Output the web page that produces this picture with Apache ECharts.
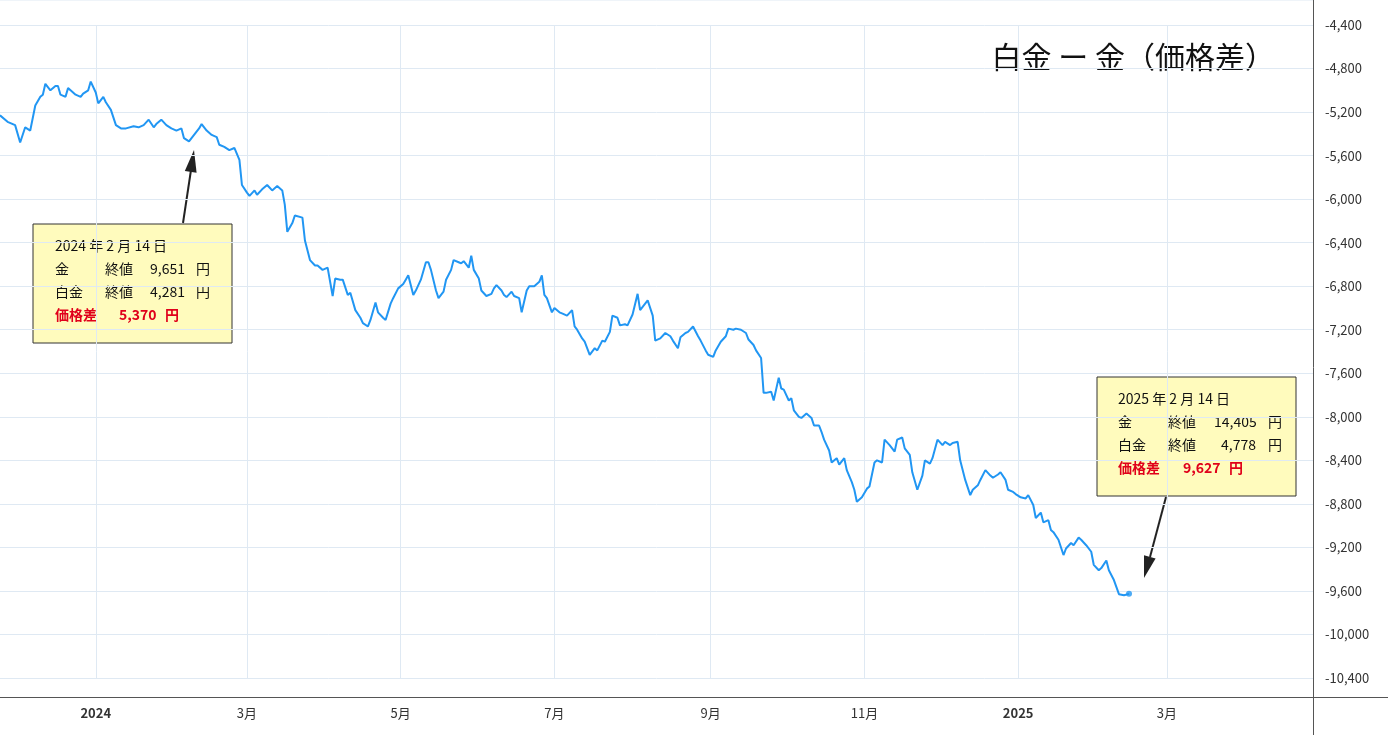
<!DOCTYPE html>
<html>
<head>
<meta charset="utf-8">
<script src="https://cdn.jsdelivr.net/npm/echarts@6/dist/echarts.min.js"></script>
<style>
  html, body { margin: 0; padding: 0; background: #fff; }
  #chart { width: 1388px; height: 735px; }
</style>
</head>
<body>
<div id="chart"></div>
<script>
// days since 2023-11-24
var START = '2023-11-24';
var days = [0,3,6,8,10,12,14,16,17,18,20,22,23,24,26,27,28,30,32,33,35,36,38,39,41,42,44,46,48,50,
  53,55,57,59,61,62,64,66,68,70,72,73,75,77,79,80,82,84,86,87,89,91,93,95,96,98,99,101,102,104,
  106,108,110,112,113,114,116,117,120,121,123,125,126,128,130,132,133,135,136,138,139,141,143,144,146,147,149,150,152,153,
  155,156,158,160,161,162,164,165,167,169,170,171,173,174,176,177,179,180,182,183,184,186,187,188,190,191,193,195,196,197,
  199,200,201,203,204,206,207,209,210,212,214,215,216,217,219,220,222,223,225,227,228,229,231,232,234,236,237,239,240,242,
  243,245,246,248,249,251,253,254,256,257,259,260,262,264,266,267,269,270,272,273,275,277,278,280,281,283,284,286,288,289,
  291,292,294,296,297,299,300,302,303,304,306,307,309,310,311,313,314,315,317,318,320,322,323,325,326,327,329,330,332,333,
  335,336,338,339,340,342,344,345,347,348,350,351,353,355,356,358,359,361,362,364,366,367,369,370,372,374,375,377,378,380,
  381,383,385,386,388,389,391,393,394,396,397,399,400,402,403,405,407,408,410,411,413,414,416,417,418,420,422,423,425,426,
  428,429,431,433,434,436,437,439,440,442,444,446,448];
var spread = [-5230,-5290,-5320,-5480,-5340,-5370,-5140,-5060,-5040,-4940,-5000,-4960,-4960,-5040,-5060,-4980,-5000,-5040,-5060,-5030,-5000,-4920,-5020,-5120,-5060,-5110,-5180,-5320,-5350,-5350,
  -5330,-5340,-5320,-5270,-5340,-5310,-5270,-5320,-5350,-5370,-5350,-5440,-5470,-5410,-5350,-5310,-5370,-5410,-5430,-5500,-5520,-5550,-5530,-5640,-5870,-5940,-5970,-5920,-5960,-5910,
  -5870,-5920,-5880,-5920,-6050,-6300,-6220,-6150,-6170,-6380,-6560,-6610,-6610,-6650,-6630,-6890,-6730,-6740,-6740,-6880,-6860,-7020,-7090,-7140,-7170,-7110,-6950,-7040,-7090,-7110,
  -6960,-6910,-6820,-6780,-6740,-6700,-6880,-6840,-6740,-6580,-6580,-6650,-6840,-6910,-6850,-6740,-6650,-6560,-6580,-6590,-6570,-6630,-6520,-6650,-6730,-6840,-6890,-6870,-6820,-6790,
  -6840,-6880,-6900,-6850,-6890,-6910,-7040,-6840,-6800,-6800,-6760,-6700,-6880,-6910,-7040,-7000,-7040,-7050,-7070,-7020,-7170,-7200,-7280,-7310,-7430,-7370,-7390,-7300,-7310,-7220,
  -7070,-7090,-7160,-7150,-7160,-7060,-6870,-7020,-6960,-6930,-7070,-7300,-7280,-7230,-7260,-7300,-7370,-7270,-7230,-7220,-7170,-7260,-7300,-7390,-7430,-7450,-7390,-7310,-7260,-7190,
  -7200,-7190,-7200,-7230,-7290,-7340,-7390,-7460,-7780,-7780,-7770,-7850,-7640,-7740,-7750,-7850,-7830,-7940,-8000,-8010,-7970,-8010,-8080,-8080,-8140,-8210,-8310,-8420,-8380,-8440,
  -8380,-8490,-8600,-8670,-8780,-8740,-8660,-8640,-8420,-8400,-8420,-8210,-8260,-8320,-8210,-8190,-8290,-8350,-8510,-8670,-8540,-8400,-8430,-8380,-8210,-8260,-8230,-8260,-8240,-8230,
  -8400,-8580,-8720,-8670,-8630,-8580,-8490,-8540,-8560,-8530,-8510,-8580,-8670,-8690,-8710,-8740,-8750,-8720,-8810,-8930,-8880,-8970,-8950,-9040,-9060,-9130,-9270,-9210,-9160,-9180,
  -9110,-9130,-9180,-9240,-9360,-9410,-9390,-9320,-9410,-9500,-9630,-9640,-9627];

var tickDays = [38, 98, 159, 220, 282, 343, 404, 463];
var tickLabels = ['2024', '3月', '5月', '7月', '9月', '11月', '2025', '3月'];
var yTicks = [-4400, -4800, -5200, -5600, -6000, -6400, -6800, -7200, -7600, -8000, -8400, -8800, -9200, -9600, -10000, -10400];

var chart = echarts.init(document.getElementById('chart'), null, { renderer: 'canvas' });
var FONT = '"Noto Sans CJK JP", "Noto Sans", sans-serif';
var seriesData = days.map(function (d, i) { return [d, spread[i]]; });
var last = seriesData[seriesData.length - 1];

function noteBox(x, y, lines) {
  var children = [{
    type: 'rect', shape: { x: 0, y: 0, width: 199, height: 119 },
    style: { fill: '#fffbbd', stroke: '#333', lineWidth: 1 }
  }];
  lines.forEach(function (ln, r) {
    ln.cols.forEach(function (c) {
      children.push({
        type: 'text', x: c[0], y: 22 + r * 23,
        style: { text: c[1], font: (ln.red ? 'bold ' : '') + '14px ' + FONT, fill: ln.red ? '#e0001b' : '#111', textVerticalAlign: 'middle' }
      });
    });
  });
  return { type: 'group', x: x, y: y, children: children };
}

var option = {
  animation: false,
  grid: { left: 0, right: 75, top: 25, bottom: 57 },
  xAxis: {
    type: 'value', min: 0, max: 521, offset: 19,
    axisLine: { show: false },
    axisTick: { show: false, customValues: tickDays },
    axisLabel: {
      customValues: tickDays, margin: 10,
      formatter: function (v) {
        var i = tickDays.indexOf(v);
        var t = i >= 0 ? tickLabels[i] : '';
        return (t === '2024' || t === '2025') ? '{b|' + t + '}' : t;
      },
      color: '#333', fontSize: 13, fontFamily: FONT,
      rich: { b: { fontWeight: 'bold', fontSize: 13, color: '#333', fontFamily: FONT } }
    },
    splitLine: { show: true, lineStyle: { color: '#dfe9f3', width: 1 } }
  },
  yAxis: {
    type: 'value', position: 'right', min: -10400, max: -4400, interval: 400,
    axisLine: { show: false }, axisTick: { show: false },
    axisLabel: {
      margin: 12, color: '#333', fontSize: 13, fontFamily: FONT,
      formatter: function (v) { return v.toLocaleString('en-US'); }
    },
    splitLine: { lineStyle: { color: '#dfe9f3', width: 1 } }
  },
  series: [{
    type: 'line', data: seriesData, showSymbol: false,
    lineStyle: { color: '#2196f3', width: 2 }, itemStyle: { color: '#2196f3' }
  }, {
    type: 'scatter', data: [last], symbolSize: 6, itemStyle: { color: '#2196f3' }
  }],
  graphic: [
    { type: 'line', shape: { x1: 0, y1: 697.5, x2: 1388, y2: 697.5 }, style: { stroke: '#555', lineWidth: 1 } },
    { type: 'line', shape: { x1: 1313.5, y1: 0, x2: 1313.5, y2: 735 }, style: { stroke: '#555', lineWidth: 1 } },
    { type: 'line', shape: { x1: 0, y1: 0, x2: 1313, y2: 0 }, style: { stroke: '#dfe9f3', lineWidth: 1 } },
    { type: 'text', x: 1275, y: 57, style: { text: '白金 ー 金（価格差）', font: '30px ' + FONT, fill: '#111', textAlign: 'right', textVerticalAlign: 'middle' } },
    { type: 'line', shape: { x1: 183, y1: 223, x2: 191, y2: 170 }, style: { stroke: '#222', lineWidth: 2 } },
    { type: 'polygon', shape: { points: [[194, 150], [196.6, 172.7], [184.8, 170.9]] }, style: { fill: '#222' } },
    { type: 'line', shape: { x1: 1166, y1: 497, x2: 1150, y2: 557 }, style: { stroke: '#222', lineWidth: 2 } },
    { type: 'polygon', shape: { points: [[1144, 578], [1155.6, 558.4], [1144.0, 555.2]] }, style: { fill: '#222' } },
    noteBox(33, 224, [
      { cols: [[22, '2024 年 2 月 14 日']] },
      { cols: [[22, '金'], [72, '終値'], [117, '9,651'], [163, '円']] },
      { cols: [[22, '白金'], [72, '終値'], [117, '4,281'], [163, '円']] },
      { red: true, cols: [[22, '価格差'], [86, '5,370'], [132, '円']] }
    ]),
    noteBox(1097, 377, [
      { cols: [[21, '2025 年 2 月 14 日']] },
      { cols: [[21, '金'], [71, '終値'], [117, '14,405'], [171, '円']] },
      { cols: [[21, '白金'], [71, '終値'], [124, '4,778'], [171, '円']] },
      { red: true, cols: [[21, '価格差'], [86, '9,627'], [132, '円']] }
    ])
  ]
};
chart.setOption(option);
</script>
</body>
</html>
